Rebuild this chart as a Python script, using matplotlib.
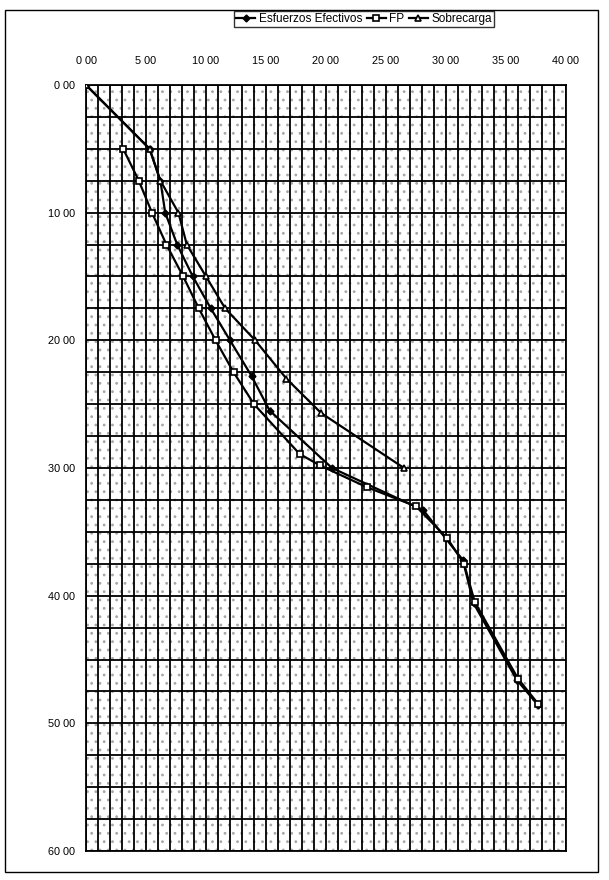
import matplotlib
matplotlib.use("Agg")
import matplotlib.pyplot as plt
from matplotlib.ticker import MultipleLocator, FixedLocator
from matplotlib.patches import Rectangle

# ---- data ----
ee_depth = [0, 5, 7.5, 10, 12.5, 15, 17.5, 20, 22.8, 25.5, 30, 33.3, 37.2, 40.6, 46.6, 48.6]
ee_x     = [0, 5.3, 6.2, 6.6, 7.6, 8.9, 10.4, 12.0, 13.8, 15.3, 20.5, 28.1, 31.4, 32.3, 35.9, 37.7]

fp_depth = [5, 7.5, 10, 12.5, 15, 17.5, 20, 22.5, 25, 28.9, 29.8, 31.5, 33, 35.5, 37.5, 40.5, 46.5, 48.5]
fp_x     = [3.1, 4.4, 5.5, 6.7, 8.1, 9.4, 10.8, 12.3, 14.0, 17.8, 19.5, 23.4, 27.5, 30.1, 31.5, 32.4, 36.0, 37.7]

sc_depth = [0, 5, 7.5, 10, 12.5, 15, 17.5, 20, 23, 25.7, 30]
sc_x     = [0, 5.3, 6.2, 7.7, 8.4, 10.0, 11.6, 14.1, 16.7, 19.6, 26.5]

x_ticks = [0, 5, 10, 15, 20, 25, 30, 35, 40]
y_ticks = [0, 10, 20, 30, 40, 50, 60]
x_labels = ["0 00", "5 00", "10 00", "15 00", "20 00", "25 00", "30 00", "35 00", "40 00"]
y_labels = ["0 00", "10 00", "20 00", "30 00", "40 00", "50 00", "60 00"]
series_names = ["Esfuerzos Efectivos", "FP", "Sobrecarga"]

plt.rcParams['font.family'] = ['Liberation Sans Narrow', 'Liberation Sans', 'DejaVu Sans']
plt.rcParams['hatch.color'] = '#a8a8a8'
plt.rcParams['hatch.linewidth'] = 0.8

W, H = 609, 880
fig = plt.figure(figsize=(W / 100, H / 100), dpi=100)
fig.patch.set_facecolor('white')
# outer frame
fig.patches.append(Rectangle((5 / W, 8 / H), 593 / W, 862 / H, transform=fig.transFigure,
                             fill=False, edgecolor='black', linewidth=1.0))

ax = fig.add_axes([86 / W, 1 - 851 / H, 480 / W, 766 / H])
ax.set_xlim(0, 40)
ax.set_ylim(60, 0)
ax.patch.set_facecolor('white')
# stippled plot-area fill
ax.add_patch(Rectangle((0, 0), 1, 1, transform=ax.transAxes, facecolor='white',
                       edgecolor='#a8a8a8', hatch='..', linewidth=0, zorder=0.1))

ax.xaxis.set_minor_locator(MultipleLocator(1))
ax.yaxis.set_minor_locator(MultipleLocator(2.5))
ax.xaxis.set_major_locator(FixedLocator(x_ticks))
ax.yaxis.set_major_locator(FixedLocator(y_ticks))
ax.set_xticklabels(x_labels)
ax.set_yticklabels(y_labels)
ax.grid(which='both', color='black', linewidth=1.3, zorder=0.5)
ax.set_axisbelow(True)
ax.xaxis.tick_top()
ax.tick_params(which='both', length=0)
ax.tick_params(axis='x', pad=14, labelsize=7.8)
ax.tick_params(axis='y', pad=8, labelsize=7.8)
for s in ax.spines.values():
    s.set_linewidth(1.3)

ax.plot(ee_x, ee_depth, color='black', lw=1.6, marker='D', ms=3.5, label=series_names[0], zorder=3)
ax.plot(fp_x, fp_depth, color='black', lw=1.6, marker='s', ms=4, mfc='white', mew=1.2, label=series_names[1], zorder=3)
ax.plot(sc_x, sc_depth, color='black', lw=1.6, marker='^', ms=4, mfc='white', mew=1.2, label=series_names[2], zorder=3)

leg = fig.legend(loc='center', bbox_to_anchor=(364 / W, 1 - 19 / H), ncol=3, frameon=True,
                 fontsize=8.5, handlelength=1.6, handletextpad=0.3, columnspacing=0.4,
                 borderpad=0.2, fancybox=False, edgecolor='black')
leg.get_frame().set_linewidth(1.0)

fig.savefig('out.png', dpi=100)
